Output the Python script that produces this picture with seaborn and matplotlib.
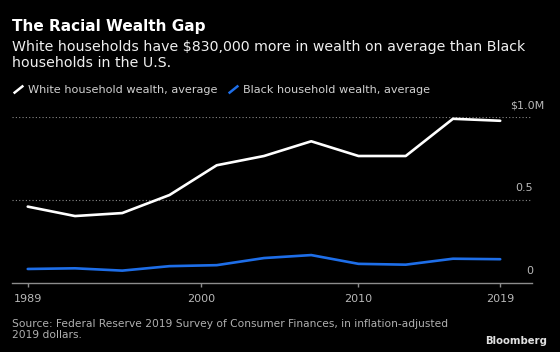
import matplotlib
matplotlib.use('Agg')
import matplotlib.pyplot as plt
import matplotlib.transforms as mtransforms
from matplotlib.lines import Line2D
import pandas as pd
import seaborn as sns

# survey years of the SCF, values in $ millions (2019 dollars)
years = [1989, 1992, 1995, 1998, 2001, 2004, 2007, 2010, 2013, 2016, 2019]
white_wealth = [0.46, 0.403, 0.421, 0.53, 0.71, 0.766, 0.855, 0.766, 0.766, 0.991, 0.979]
black_wealth = [0.083, 0.087, 0.073, 0.100, 0.106, 0.149, 0.167, 0.114, 0.109, 0.145, 0.142]
series_names = ['White household wealth, average', 'Black household wealth, average']
series_colors = ['#ffffff', '#1e6ee8']

xtick_years = [1989, 2000, 2010, 2019]
ytick_vals = [0, 0.5, 1.0]
ytick_labels = ['0', '0.5', '$1.0M']

title = 'The Racial Wealth Gap'
subtitle = ('White households have $830,000 more in wealth on average than Black\n'
            'households in the U.S.')
source = ('Source: Federal Reserve 2019 Survey of Consumer Finances, in inflation-adjusted\n'
          '2019 dollars.')


def main():
    sns.set_theme(style='dark', rc={'figure.facecolor': 'black', 'axes.facecolor': 'black'})
    plt.rcParams['font.family'] = ['DejaVu Sans']

    df = pd.DataFrame({
        'year': years * 2,
        'wealth': white_wealth + black_wealth,
        'group': [series_names[0]] * len(years) + [series_names[1]] * len(years),
    })

    fig = plt.figure(figsize=(5.6, 3.52), dpi=100)
    ax = fig.add_axes([0.02143, 0.19688, 0.92804, 0.46989])

    sns.lineplot(data=df, x='year', y='wealth', hue='group', hue_order=series_names,
                 palette=series_colors, linewidth=1.9, legend=False, ax=ax)
    for ln in ax.lines:
        ln.set_clip_on(False)

    ax.set_xlim(1988, 2021)
    ax.set_ylim(0, 1.0)
    ax.set_xlabel(None)
    ax.set_ylabel(None)

    # dotted gridlines, bottom axis only
    for v in ytick_vals[1:]:
        ax.axhline(v, color='#8a8a8a', lw=0.8, ls=(0, (1, 2)), zorder=0)
    for s in ['top', 'left', 'right']:
        ax.spines[s].set_visible(False)
    ax.spines['bottom'].set_color('#8c8c8c')
    ax.spines['bottom'].set_linewidth(1.0)

    ax.set_xticks(xtick_years)
    ax.set_xticklabels([str(y) for y in xtick_years])
    ax.tick_params(axis='x', colors='#8c8c8c', labelcolor='#b8b8b8', labelsize=8,
                   length=3, width=1, direction='out', pad=5, bottom=True)
    ax.set_yticks([])

    trans = mtransforms.blended_transform_factory(ax.transAxes, ax.transData)
    for v, lab in zip(ytick_vals, ytick_labels):
        xr = 1.0237 if lab.endswith('M') else 1.0025
        ax.annotate(lab, xy=(xr, v), xycoords=trans, xytext=(0, 8.6),
                    textcoords='offset points', ha='right', va='center',
                    fontsize=8, color='#b8b8b8')

    fig.text(0.0214, 0.924, title, fontsize=11, fontweight='bold', color='white',
             ha='left', va='center')
    fig.text(0.0214, 0.8438, subtitle, fontsize=10.15, color='#f0f0f0',
             ha='left', va='center', linespacing=1.18)

    handles = [Line2D([0], [0], marker=[(-1, -0.8), (1, 0.8)], ls='none',
                      markeredgecolor=c, markerfacecolor=c, markersize=7,
                      markeredgewidth=1.8) for c in series_colors]
    fig.legend(handles, series_names, loc='center left', bbox_to_anchor=(0.024, 0.744),
               ncol=2, frameon=False, fontsize=8.1, labelcolor='#d0d0d0',
               handlelength=0.8, handletextpad=0.5, columnspacing=1.0,
               borderpad=0, borderaxespad=0)

    fig.text(0.0214, 0.0648, source, fontsize=7.65, color='#b0b0b0',
             ha='left', va='center', linespacing=1.15)
    fig.text(0.9768, 0.0321, 'Bloomberg', fontsize=7.3, fontweight='bold',
             color='#e0e0e0', ha='right', va='center')

    plt.savefig('out.png', dpi=100, facecolor='black')


if __name__ == '__main__':
    main()
